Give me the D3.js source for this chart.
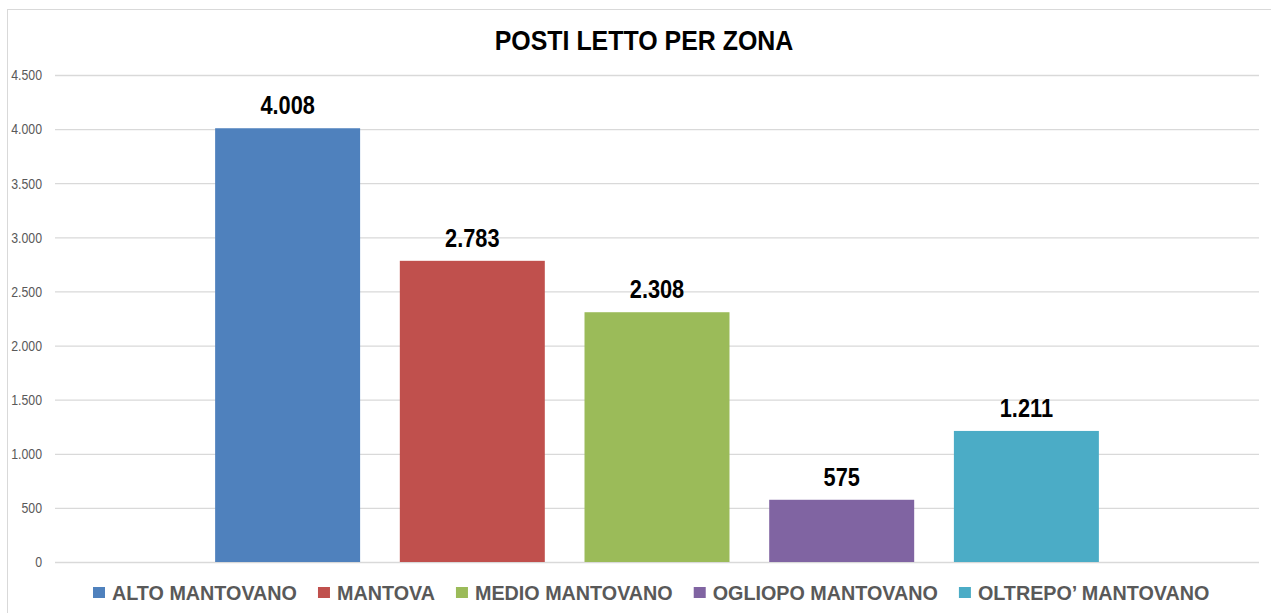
<!DOCTYPE html>
<html lang="it">
<head>
<meta charset="utf-8">
<script src="https://d3js.org/d3.v7.min.js"></script>
<style type="text/css">
body { margin: 0; background: #fff; }
svg text { font-family: "Liberation Sans", Arial, sans-serif; }
</style>
</head>
<body>
<script type="text/javascript">

// data
var zones = ["ALTO MANTOVANO", "MANTOVA", "MEDIO MANTOVANO", "OGLIOPO MANTOVANO", "OLTREPO\u2019 MANTOVANO"];
var beds = [4008, 2783, 2308, 575, 1211];
var colors = ["#4F81BD", "#C0504D", "#9BBB59", "#8064A2", "#4BACC6"];
var yTicks = [0, 500, 1000, 1500, 2000, 2500, 3000, 3500, 4000, 4500];

var width = 1271, height = 613;
var plotL = 55, plotR = 1259, plotT = 75, plotB = 562;

// squeeze Arial metrics so the text looks like Arial Narrow
function narrow(ratio) {
	return function(sel) {
		sel.each(function() {
			var w = this.getComputedTextLength();
			d3.select(this).attr("textLength", w * ratio).attr("lengthAdjust", "spacingAndGlyphs");
		});
	};
}

var svg = d3.select("body").append("svg")
	.attr("width", width)
	.attr("height", height);

// chart border
svg.append("rect")
	.attr("x", 7.5).attr("y", 9.5)
	.attr("width", width + 10).attr("height", height + 10)
	.style("fill", "none")
	.style("stroke", "#d9d9d9");

svg.append("text")
	.attr("x", 644).attr("y", 50)
	.attr("text-anchor", "middle")
	.style("font-size", "28px")
	.style("font-weight", "bold")
	.style("fill", "#000")
	.text("POSTI LETTO PER ZONA")
	.call(narrow(0.89));

var y = d3.scaleLinear().domain([0, 4500]).range([plotB, plotT]);
var x = d3.scaleBand().domain(zones).range([plotL, plotR])
	.paddingInner(0.215).paddingOuter(0.867);

var fmt = function(v) { return d3.format(",")(v).replace(/,/g, "."); };

// gridlines + labels
var yAxis = svg.append("g")
	.attr("transform", "translate(" + plotL + ",0)")
	.call(d3.axisLeft(y).tickValues(yTicks)
		.tickSize(-(plotR - plotL))
		.tickPadding(13)
		.tickFormat(fmt));
yAxis.select(".domain").remove();
yAxis.selectAll("line").style("stroke", "#d9d9d9").style("stroke-width", 1.3);
yAxis.selectAll("text").style("font-size", "15px").style("fill", "#595959").call(narrow(0.82));

// bars
svg.selectAll("rect.bar")
	.data(zones)
	.enter()
	.append("rect")
	.attr("class", "bar")
	.attr("x", function(d) { return x(d); })
	.attr("y", function(d, i) { return y(beds[i]); })
	.attr("width", x.bandwidth())
	.attr("height", function(d, i) { return plotB - y(beds[i]); })
	.style("fill", function(d, i) { return colors[i]; });

svg.selectAll("text.val")
	.data(zones)
	.enter()
	.append("text")
	.attr("class", "val")
	.attr("x", function(d) { return x(d) + x.bandwidth() / 2; })
	.attr("y", function(d, i) { return y(beds[i]) - 14; })
	.attr("text-anchor", "middle")
	.style("font-size", "25px")
	.style("font-weight", "bold")
	.style("fill", "#000")
	.text(function(d, i) { return fmt(beds[i]); })
	.call(narrow(0.87));

// legend
var legend = svg.append("g").attr("transform", "translate(0,600)");
var lx = 93;
zones.forEach(function(z, i) {
	legend.append("rect")
		.attr("x", lx).attr("y", -13)
		.attr("width", 12).attr("height", 11)
		.style("fill", colors[i]);
	var t = legend.append("text")
		.attr("x", lx + 19).attr("y", 0)
		.style("font-size", "21px")
		.style("font-weight", "bold")
		.style("fill", "#595959")
		.text(z)
		.call(narrow(0.94));
	lx += 19 + (+t.attr("textLength")) + 21;
});

</script>
</body>
</html>
